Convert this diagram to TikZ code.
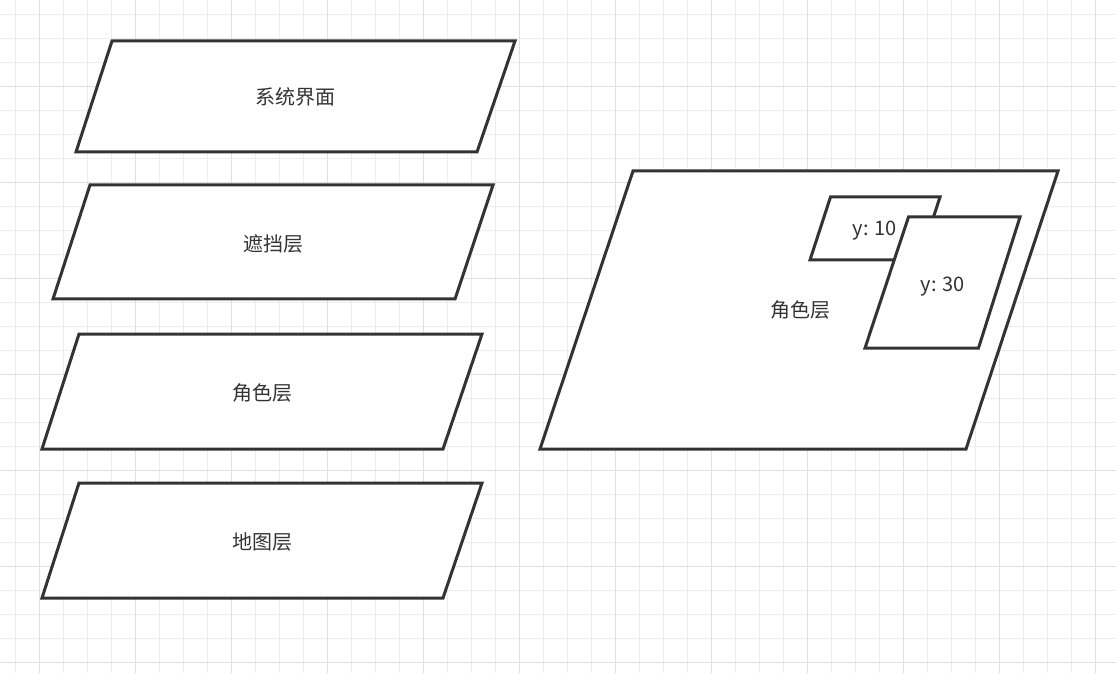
\documentclass[tikz,border=0pt]{standalone}
\usepackage{fontspec}
\setmainfont{Noto Sans CJK SC}
\definecolor{ink}{HTML}{333333}
\definecolor{gridminor}{HTML}{EDEDED}
\definecolor{gridmajor}{HTML}{E0E0E0}
\tikzset{
  layer/.style={draw=ink, line width=2.25pt, fill=white, line join=miter},
  layertext/.style={text=ink, font=\fontsize{15pt}{18pt}\selectfont, inner sep=0pt}
}
\begin{document}
\begin{tikzpicture}[x=0.75pt, y=-0.75pt]

      \useasboundingbox (0,0) rectangle (1116,673);
      \fill[white] (0,0) rectangle (1116,673);

      % grid
      \foreach \gx in {0,...,45}
        \draw[gridminor, line width=0.75pt] (15.3+24*\gx,0) -- (15.3+24*\gx,673);
      \foreach \gy in {0,...,27}
        \draw[gridminor, line width=0.75pt] (0,14.3+24*\gy) -- (1116,14.3+24*\gy);
      \foreach \gx in {0,...,11}
        \draw[gridmajor, line width=0.75pt] (39.3+96*\gx,0) -- (39.3+96*\gx,673);
      \foreach \gy in {0,...,6}
        \draw[gridmajor, line width=0.75pt] (0,86.3+96*\gy) -- (1116,86.3+96*\gy);

      % left stack of layers
      \draw[layer] (112,41)  -- (515,41)  -- (477,152) -- (76,152) -- cycle;
      \draw[layer] (90,185)  -- (493,185) -- (455,299) -- (53,299) -- cycle;
      \draw[layer] (79,334)  -- (482,334) -- (443,449) -- (42,449) -- cycle;
      \draw[layer] (79,483)  -- (482,483) -- (443,598) -- (42,598) -- cycle;

      \begin{scope}[every node/.style={layertext}]
        \node (ui)    at (295,97)  {系统界面};
        \node (mask)  at (273,244) {遮挡层};
        \node (role)  at (262,393) {角色层};
        \node (map)   at (262,542) {地图层};
      \end{scope}

      % role layer detail
      \draw[layer] (633,171) -- (1058,171) -- (966,449) -- (540,449) -- cycle;
      \draw[layer] (830.5,197) -- (940,197) -- (919.5,260) -- (810,260) -- cycle;
      \draw[layer] (908.5,217) -- (1020,217) -- (978.5,348) -- (865,348) -- cycle;

      \begin{scope}[every node/.style={layertext}]
        \node (rolebig) at (800,310) {角色层};
        \node (y10)     at (875,231) {y: 10};
        \node (y30)     at (943,287) {y: 30};
      \end{scope}

    \end{tikzpicture}
\end{document}
